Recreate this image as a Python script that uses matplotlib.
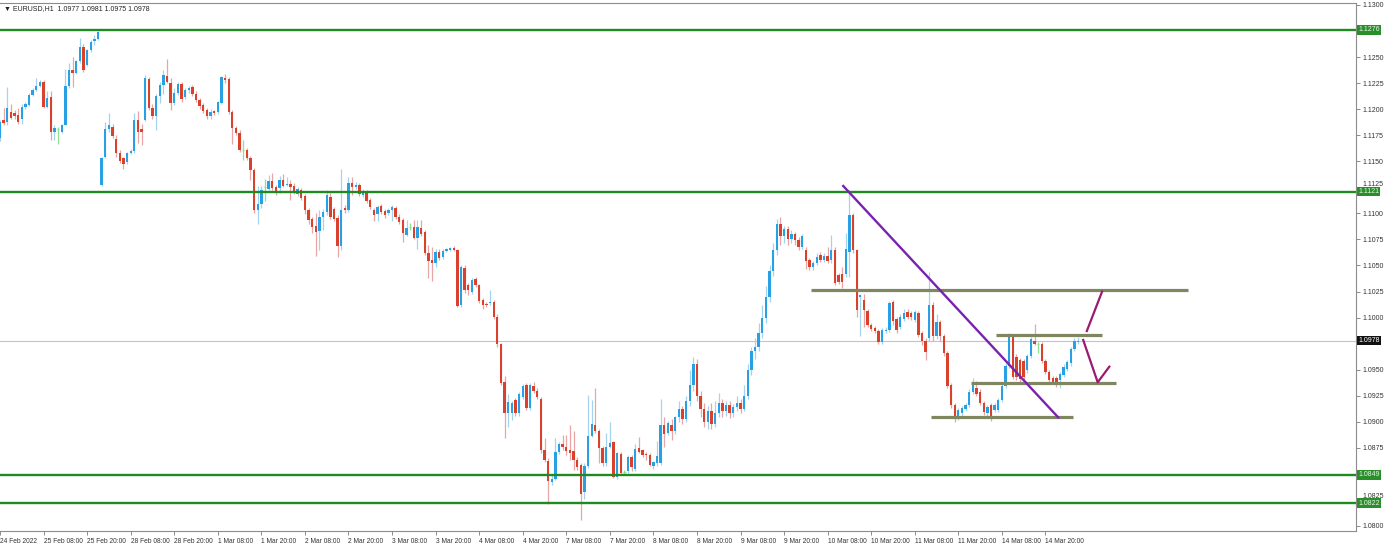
import numpy as np
import matplotlib
matplotlib.use("Agg")
from matplotlib import pyplot as plt
from matplotlib.transforms import ScaledTranslation

plt.rcParams['font.family'] = ['Liberation Sans', 'DejaVu Sans']

# EURUSD H1 bars (open, high, low, close)
opens = [
    1.1172, 1.1190, 1.1188, 1.1197, 1.1196, 1.1194, 1.1191, 1.1202, 1.1204, 1.1214,
    1.1218, 1.1222, 1.1226, 1.1202, 1.1212, 1.1178, 1.1181, 1.1178, 1.1185, 1.1222,
    1.1238, 1.1235, 1.1246, 1.1260, 1.1242, 1.1257, 1.1265, 1.1267, 1.1127, 1.1154,
    1.1181, 1.1183, 1.1171, 1.1158, 1.1153, 1.1149, 1.1158, 1.1160, 1.1190, 1.1181,
    1.1190, 1.1229, 1.1201, 1.1193, 1.1213, 1.1223, 1.1232, 1.1225, 1.1206, 1.1216,
    1.1224, 1.1212, 1.1218, 1.1221, 1.1215, 1.1209, 1.1204, 1.1199, 1.1193, 1.1198,
    1.1197, 1.1206, 1.1230, 1.1229, 1.1197, 1.1182, 1.1177, 1.1161, 1.1161, 1.1153,
    1.1142, 1.1103, 1.1109, 1.1125, 1.1123, 1.1131, 1.1125, 1.1124, 1.1132, 1.1127,
    1.1128, 1.1126, 1.1119, 1.1122, 1.1117, 1.1103, 1.1095, 1.1088, 1.1083, 1.1097,
    1.1101, 1.1116, 1.1104, 1.1096, 1.1069, 1.1105, 1.1103, 1.1129, 1.1125, 1.1127,
    1.1118, 1.1120, 1.1113, 1.1103, 1.1099, 1.1107, 1.1102, 1.1100, 1.1103, 1.1105,
    1.1097, 1.1094, 1.1079, 1.1087, 1.1087, 1.1076, 1.1086, 1.1082, 1.1062, 1.1055,
    1.1052, 1.1063, 1.1058, 1.1064, 1.1065, 1.1067, 1.1065, 1.1012, 1.1048, 1.1031,
    1.1025, 1.1037, 1.1031, 1.1017, 1.1013, 1.1014, 1.1015, 1.1001, 1.0975, 1.0938,
    1.0908, 1.0908, 1.0921, 1.0908, 1.0924, 1.0935, 1.0913, 1.0934, 1.0930, 1.0922,
    1.0873, 1.0862, 1.0842, 1.0845, 1.0871, 1.0879, 1.0876, 1.0873, 1.0872, 1.0863,
    1.0859, 1.0833, 1.0858, 1.0886, 1.0897, 1.0891, 1.0875, 1.0860, 1.0876, 1.0881,
    1.0847, 1.0869, 1.0852, 1.0853, 1.0866, 1.0855, 1.0875, 1.0873, 1.0869, 1.0868,
    1.0858, 1.0860, 1.0860, 1.0897, 1.0889, 1.0897, 1.0891, 1.0905, 1.0912, 1.0903,
    1.0920, 1.0935, 1.0955, 1.0925, 1.0912, 1.0900, 1.0910, 1.0898, 1.0908, 1.0918,
    1.0910, 1.0916, 1.0908, 1.0914, 1.0918, 1.0912, 1.0925, 1.0950, 1.0968, 1.0972,
    1.0985, 1.1000, 1.1020, 1.1045, 1.1065, 1.1090, 1.1078, 1.1085, 1.1075, 1.1080,
    1.1074, 1.1068, 1.1065, 1.1055, 1.1049, 1.1052, 1.1060, 1.1055, 1.1059, 1.1055,
    1.1065, 1.1041, 1.1042, 1.1042, 1.1063, 1.1098, 1.1065, 1.1020, 1.1017, 1.1006,
    1.0993, 1.0990, 1.0987, 1.0977, 1.0987, 1.0988, 1.1015, 1.0999, 1.0991, 1.0999,
    1.1005, 1.1004, 1.0998, 1.1004, 1.0985, 1.0978, 1.0980, 1.1012, 1.0982, 1.0996,
    1.0982, 1.0966, 1.0935, 1.0916, 1.0905, 1.0908, 1.0912, 1.0916, 1.0929, 1.0932,
    1.0929, 1.0918, 1.0908, 1.0916, 1.0911, 1.0911, 1.0921, 1.0934, 1.0954, 1.0982,
    1.0962, 1.0959, 1.0958, 1.0950, 1.0963, 1.0978, 1.0975, 1.0975, 1.0958, 1.0948,
    1.0942, 1.0942, 1.0940, 1.0945, 1.0951, 1.0956, 1.0970, 1.0977,
]
highs = [
    1.1190, 1.1201, 1.1221, 1.1205, 1.1199, 1.1201, 1.1205, 1.1207, 1.1216, 1.1220,
    1.1230, 1.1228, 1.1228, 1.1217, 1.1217, 1.1185, 1.1183, 1.1186, 1.1239, 1.1244,
    1.1250, 1.1247, 1.1268, 1.1263, 1.1258, 1.1266, 1.1271, 1.1275, 1.1154, 1.1188,
    1.1196, 1.1186, 1.1175, 1.1161, 1.1154, 1.1159, 1.1162, 1.1196, 1.1198, 1.1186,
    1.1233, 1.1231, 1.1205, 1.1215, 1.1226, 1.1238, 1.1248, 1.1230, 1.1220, 1.1226,
    1.1226, 1.1220, 1.1222, 1.1223, 1.1217, 1.1211, 1.1206, 1.1201, 1.1200, 1.1199,
    1.1208, 1.1232, 1.1234, 1.1231, 1.1199, 1.1184, 1.1180, 1.1170, 1.1163, 1.1155,
    1.1144, 1.1126, 1.1126, 1.1133, 1.1137, 1.1139, 1.1127, 1.1136, 1.1138, 1.1135,
    1.1132, 1.1129, 1.1125, 1.1124, 1.1119, 1.1105, 1.1097, 1.1100, 1.1103, 1.1104,
    1.1122, 1.1120, 1.1106, 1.1098, 1.1143, 1.1108, 1.1135, 1.1135, 1.1130, 1.1129,
    1.1123, 1.1122, 1.1115, 1.1105, 1.1108, 1.1109, 1.1104, 1.1105, 1.1108, 1.1107,
    1.1099, 1.1096, 1.1094, 1.1091, 1.1094, 1.1094, 1.1094, 1.1084, 1.1070, 1.1068,
    1.1066, 1.1066, 1.1066, 1.1067, 1.1068, 1.1069, 1.1066, 1.1050, 1.1050, 1.1033,
    1.1038, 1.1039, 1.1032, 1.1019, 1.1015, 1.1026, 1.1017, 1.1003, 1.0976, 1.0944,
    1.0927, 1.0920, 1.0923, 1.0929, 1.0936, 1.0937, 1.0937, 1.0938, 1.0932, 1.0924,
    1.0884, 1.0865, 1.0850, 1.0884, 1.0881, 1.0887, 1.0887, 1.0897, 1.0891, 1.0866,
    1.0860, 1.0860, 1.0926, 1.0921, 1.0932, 1.0893, 1.0877, 1.0889, 1.0900, 1.0882,
    1.0871, 1.0871, 1.0854, 1.0868, 1.0868, 1.0879, 1.0885, 1.0874, 1.0871, 1.0870,
    1.0862, 1.0882, 1.0922, 1.0905, 1.0901, 1.0903, 1.0906, 1.0920, 1.0915, 1.0925,
    1.0950, 1.0962, 1.0960, 1.0930, 1.0918, 1.0915, 1.0918, 1.0920, 1.0928, 1.0922,
    1.0920, 1.0920, 1.0917, 1.0925, 1.0922, 1.0935, 1.0955, 1.0972, 1.0980, 1.0995,
    1.1012, 1.1030, 1.1050, 1.1072, 1.1095, 1.1097, 1.1088, 1.1088, 1.1084, 1.1082,
    1.1077, 1.1080, 1.1068, 1.1057, 1.1054, 1.1062, 1.1063, 1.1062, 1.1068, 1.1079,
    1.1068, 1.1043, 1.1049, 1.1081, 1.1122, 1.1100, 1.1066, 1.1023, 1.1023, 1.1008,
    1.0995, 1.0992, 1.0989, 1.0990, 1.0991, 1.1016, 1.1017, 1.1001, 1.1003, 1.1008,
    1.1008, 1.1006, 1.1007, 1.1006, 1.0987, 1.0980, 1.1044, 1.1015, 1.1003, 1.0998,
    1.0984, 1.0968, 1.0937, 1.0918, 1.0913, 1.0915, 1.0918, 1.0931, 1.0942, 1.0939,
    1.0931, 1.0920, 1.0916, 1.0918, 1.0918, 1.0923, 1.0936, 1.0956, 1.0985, 1.0984,
    1.0965, 1.0961, 1.0960, 1.0965, 1.0981, 1.0994, 1.0977, 1.0977, 1.0960, 1.0950,
    1.0944, 1.0944, 1.0948, 1.0955, 1.0959, 1.0972, 1.0980, 1.0981,
]
lows = [
    1.1169, 1.1185, 1.1185, 1.1191, 1.1191, 1.1186, 1.1186, 1.1200, 1.1203, 1.1213,
    1.1217, 1.1221, 1.1201, 1.1201, 1.1170, 1.1170, 1.1167, 1.1177, 1.1185, 1.1220,
    1.1221, 1.1234, 1.1244, 1.1236, 1.1241, 1.1255, 1.1262, 1.1266, 1.1126, 1.1153,
    1.1178, 1.1172, 1.1154, 1.1148, 1.1143, 1.1147, 1.1157, 1.1158, 1.1168, 1.1166,
    1.1189, 1.1199, 1.1191, 1.1180, 1.1206, 1.1215, 1.1225, 1.1199, 1.1204, 1.1214,
    1.1207, 1.1210, 1.1216, 1.1213, 1.1207, 1.1200, 1.1196, 1.1191, 1.1191, 1.1194,
    1.1195, 1.1205, 1.1225, 1.1195, 1.1167, 1.1175, 1.1159, 1.1151, 1.1151, 1.1132,
    1.1100, 1.1090, 1.1105, 1.1112, 1.1122, 1.1122, 1.1118, 1.1120, 1.1125, 1.1126,
    1.1113, 1.1119, 1.1117, 1.1113, 1.1099, 1.1090, 1.1081, 1.1059, 1.1065, 1.1084,
    1.1098, 1.1095, 1.1093, 1.1058, 1.1065, 1.1100, 1.1101, 1.1118, 1.1123, 1.1117,
    1.1116, 1.1110, 1.1104, 1.1093, 1.1093, 1.1099, 1.1096, 1.1098, 1.1093, 1.1095,
    1.1090, 1.1073, 1.1078, 1.1084, 1.1075, 1.1066, 1.1078, 1.1060, 1.1038, 1.1035,
    1.1049, 1.1055, 1.1056, 1.1063, 1.1064, 1.1064, 1.1010, 1.1010, 1.1024, 1.1022,
    1.1023, 1.1029, 1.1014, 1.1008, 1.1010, 1.1012, 1.0999, 1.0972, 1.0935, 1.0884,
    1.0895, 1.0902, 1.0906, 1.0906, 1.0922, 1.0911, 1.0911, 1.0928, 1.0922, 1.0870,
    1.0861, 1.0821, 1.0839, 1.0844, 1.0869, 1.0873, 1.0868, 1.0863, 1.0854, 1.0854,
    1.0806, 1.0826, 1.0856, 1.0885, 1.0889, 1.0860, 1.0858, 1.0858, 1.0875, 1.0846,
    1.0845, 1.0849, 1.0850, 1.0851, 1.0853, 1.0853, 1.0870, 1.0866, 1.0863, 1.0858,
    1.0855, 1.0858, 1.0859, 1.0876, 1.0887, 1.0883, 1.0888, 1.0900, 1.0898, 1.0900,
    1.0915, 1.0930, 1.0920, 1.0905, 1.0895, 1.0893, 1.0893, 1.0895, 1.0905, 1.0905,
    1.0906, 1.0904, 1.0905, 1.0910, 1.0908, 1.0910, 1.0922, 1.0945, 1.0960, 1.0968,
    1.0980, 1.0995, 1.1015, 1.1040, 1.1060, 1.1070, 1.1072, 1.1070, 1.1072, 1.1070,
    1.1065, 1.1066, 1.1047, 1.1046, 1.1046, 1.1050, 1.1053, 1.1053, 1.1052, 1.1052,
    1.1031, 1.1032, 1.1028, 1.1039, 1.1039, 1.1062, 1.1001, 1.0982, 1.0991, 1.0991,
    1.0987, 1.0985, 1.0975, 1.0975, 1.0985, 1.0986, 1.0993, 1.0985, 1.0989, 1.0997,
    1.0999, 1.0998, 1.0996, 1.0981, 1.0974, 1.0959, 1.0978, 1.0978, 1.0979, 1.0978,
    1.0963, 1.0932, 1.0913, 1.0900, 1.0902, 1.0906, 1.0910, 1.0914, 1.0927, 1.0925,
    1.0916, 1.0907, 1.0905, 1.0901, 1.0909, 1.0909, 1.0919, 1.0932, 1.0952, 1.0941,
    1.0940, 1.0938, 1.0940, 1.0947, 1.0961, 1.0974, 1.0966, 1.0956, 1.0946, 1.0938,
    1.0936, 1.0933, 1.0932, 1.0943, 1.0949, 1.0954, 1.0968, 1.0975,
]
closes = [
    1.1188, 1.1187, 1.1201, 1.1192, 1.1193, 1.1188, 1.1202, 1.1205, 1.1214, 1.1218,
    1.1222, 1.1226, 1.1202, 1.1211, 1.1178, 1.1182, 1.1181, 1.1185, 1.1222, 1.1238,
    1.1235, 1.1246, 1.1260, 1.1238, 1.1257, 1.1264, 1.1267, 1.1274, 1.1153, 1.1181,
    1.1185, 1.1174, 1.1158, 1.1150, 1.1147, 1.1158, 1.1160, 1.1190, 1.1178, 1.1178,
    1.1230, 1.1201, 1.1193, 1.1213, 1.1223, 1.1233, 1.1226, 1.1206, 1.1216, 1.1224,
    1.1210, 1.1218, 1.1220, 1.1215, 1.1209, 1.1203, 1.1198, 1.1193, 1.1197, 1.1196,
    1.1207, 1.1231, 1.1228, 1.1197, 1.1182, 1.1177, 1.1161, 1.1161, 1.1153, 1.1142,
    1.1103, 1.1109, 1.1122, 1.1125, 1.1131, 1.1124, 1.1120, 1.1132, 1.1126, 1.1128,
    1.1125, 1.1121, 1.1123, 1.1115, 1.1103, 1.1094, 1.1087, 1.1082, 1.1097, 1.1101,
    1.1118, 1.1097, 1.1095, 1.1069, 1.1103, 1.1103, 1.1129, 1.1125, 1.1127, 1.1119,
    1.1121, 1.1112, 1.1106, 1.1098, 1.1106, 1.1101, 1.1098, 1.1103, 1.1106, 1.1097,
    1.1092, 1.1081, 1.1086, 1.1087, 1.1076, 1.1087, 1.1080, 1.1062, 1.1054, 1.1052,
    1.1063, 1.1057, 1.1064, 1.1066, 1.1067, 1.1065, 1.1011, 1.1049, 1.1026, 1.1026,
    1.1036, 1.1031, 1.1016, 1.1012, 1.1012, 1.1015, 1.1001, 1.0975, 1.0937, 1.0908,
    1.0919, 1.0918, 1.0908, 1.0927, 1.0934, 1.0913, 1.0935, 1.0930, 1.0924, 1.0873,
    1.0863, 1.0843, 1.0845, 1.0871, 1.0879, 1.0876, 1.0872, 1.0870, 1.0863, 1.0857,
    1.0831, 1.0858, 1.0886, 1.0898, 1.0891, 1.0875, 1.0860, 1.0876, 1.0880, 1.0847,
    1.0870, 1.0851, 1.0852, 1.0866, 1.0857, 1.0874, 1.0871, 1.0868, 1.0868, 1.0859,
    1.0861, 1.0867, 1.0897, 1.0888, 1.0899, 1.0891, 1.0905, 1.0912, 1.0903, 1.0920,
    1.0935, 1.0955, 1.0925, 1.0912, 1.0900, 1.0910, 1.0898, 1.0908, 1.0918, 1.0910,
    1.0916, 1.0908, 1.0914, 1.0918, 1.0912, 1.0925, 1.0950, 1.0968, 1.0972, 1.0985,
    1.1000, 1.1020, 1.1045, 1.1065, 1.1090, 1.1078, 1.1085, 1.1075, 1.1080, 1.1074,
    1.1068, 1.1078, 1.1054, 1.1049, 1.1052, 1.1058, 1.1055, 1.1059, 1.1054, 1.1065,
    1.1033, 1.1034, 1.1034, 1.1066, 1.1098, 1.1065, 1.1007, 1.1022, 1.1007, 1.0993,
    1.0989, 1.0987, 1.0977, 1.0988, 1.0988, 1.1014, 1.0997, 1.0988, 1.1001, 1.1004,
    1.1001, 1.1001, 1.1005, 1.0983, 1.0978, 1.0967, 1.1012, 1.0982, 1.0996, 1.0982,
    1.0966, 1.0934, 1.0916, 1.0903, 1.0911, 1.0913, 1.0916, 1.0929, 1.0937, 1.0927,
    1.0918, 1.0909, 1.0914, 1.0905, 1.0916, 1.0921, 1.0934, 1.0954, 1.0982, 1.0943,
    1.0943, 1.0941, 1.0943, 1.0963, 1.0979, 1.0975, 1.0975, 1.0958, 1.0948, 1.0940,
    1.0938, 1.0935, 1.0946, 1.0953, 1.0957, 1.0970, 1.0978, 1.0978,
]

time_labels = ["24 Feb 2022", "25 Feb 08:00", "25 Feb 20:00", "28 Feb 08:00", "28 Feb 20:00",
               "1 Mar 08:00", "1 Mar 20:00", "2 Mar 08:00", "2 Mar 20:00", "3 Mar 08:00",
               "3 Mar 20:00", "4 Mar 08:00", "4 Mar 20:00", "7 Mar 08:00", "7 Mar 20:00",
               "8 Mar 08:00", "8 Mar 20:00", "9 Mar 08:00", "9 Mar 20:00", "10 Mar 08:00",
               "10 Mar 20:00", "11 Mar 08:00", "11 Mar 20:00", "14 Mar 08:00", "14 Mar 20:00"]
label_step = 12  # one label every 12 hourly bars

# levels drawn on the chart
green_levels = [1.1276, 1.1121, 1.0849, 1.0822]
bid = 1.0978
# (start bar, end bar, price)
zones = [(223.4, 327.3, 1.10265), (274.4, 303.5, 1.09836),
         (267.4, 307.4, 1.09375), (256.4, 295.5, 1.09043)]
trend = ([232.3, 291.5], [1.11263, 1.09043])
arrow_up = ([299.4, 303.6], [1.09871, 1.10249])
arrow_down = ([298.4, 302.4, 305.6], [1.09785, 1.09379, 1.09529])

o = np.array(opens); h = np.array(highs); l = np.array(lows); c = np.array(closes)
x = np.arange(len(c))

up_col, dn_col, doji_col = "#27a1e4", "#d9412d", "#8fe08f"
up_wick, dn_wick = "#a3d3ef", "#e9a5a5"

fig = plt.figure(figsize=(14, 5.59), dpi=100)
ax = fig.add_axes([0, 28 / 559, 1356 / 1400, 528 / 559])

up = c > o
dn = c < o
dj = c == o
ax.vlines(x[up], l[up], h[up], color=up_wick, lw=0.9, zorder=2)
ax.vlines(x[dn], l[dn], h[dn], color=dn_wick, lw=0.9, zorder=2)
ax.vlines(x[dj], l[dj], h[dj], color=doji_col, lw=0.9, zorder=2)
ax.bar(x[up], c[up] - o[up], bottom=o[up], width=0.65, color=up_col, lw=0, zorder=3)
ax.bar(x[dn], o[dn] - c[dn], bottom=c[dn], width=0.65, color=dn_col, lw=0, zorder=3)
ax.hlines(c[dj], x[dj] - 0.35, x[dj] + 0.35, color=doji_col, lw=0.9, zorder=3)

for lv in green_levels:
    ax.axhline(lv, color="#1f8a1f", lw=1.7, zorder=4)
ax.axhline(bid, color="#c4c4c4", lw=0.8, zorder=1)

for x0, x1, p in zones:
    ax.plot([x0, x1], [p, p], color="#7e8760", lw=2.3, solid_capstyle="butt", zorder=5)
ax.plot(*trend, color="#7a22b0", lw=1.7, zorder=6)
ax.plot(*arrow_up, color="#9b1a72", lw=1.6, zorder=6)
ax.plot(*arrow_down, color="#9b1a72", lw=1.6, zorder=6)

ax.set_xlim(0, 1356 / 3.63)
ax.set_ylim(1.07952, 1.13019)

# right price scale; labels hidden behind the price tags are left blank
hidden = {"1.1275", "1.0975", "1.0850"}
ax.yaxis.tick_right()
yt = np.arange(1.0800, 1.13001, 0.0025)
ax.set_yticks(yt)
ax.set_yticklabels(["" if "%.4f" % v in hidden else "%.4f" % v for v in yt])
ax.tick_params(axis="y", length=3, width=0.6, color="#777777", labelsize=5.0,
               labelcolor="#333333", pad=2)
# labels sitting just above a tag are nudged up a little
nudge = ScaledTranslation(0, 4 / 100, fig.dpi_scale_trans)
for lab in ax.get_yticklabels():
    if lab.get_text() in ("1.1125", "1.0825"):
        lab.set_transform(lab.get_transform() + nudge)

xt = np.arange(len(time_labels)) * label_step
ax.set_xticks(xt)
ax.set_xticklabels(time_labels, ha="left")
ax.tick_params(axis="x", length=3, width=0.6, color="#777777", labelsize=4.8,
               labelcolor="#333333", pad=2)

for side in ["top", "right", "bottom"]:
    ax.spines[side].set_color("#8c8c8c")
    ax.spines[side].set_linewidth(0.8)
ax.spines["left"].set_visible(False)

# price tags on the right axis
tr = ax.get_yaxis_transform()
for lv in green_levels:
    ax.text(1.0015, lv, "%.4f" % lv, transform=tr, fontsize=5.0, color="#e8f5e8",
            va="center", ha="left", clip_on=False, zorder=10,
            bbox=dict(boxstyle="square,pad=0.2", fc="#2a8f2a", ec="none"))
ax.text(1.0015, bid, "%.4f" % bid, transform=tr, fontsize=5.0, color="white",
        va="center", ha="left", clip_on=False, zorder=10,
        bbox=dict(boxstyle="square,pad=0.2", fc="#111111", ec="none"))

fig.text(4 / 1400, 1 - 9 / 559, "\u25bc EURUSD,H1  1.0977 1.0981 1.0975 1.0978",
         fontsize=5.0, color="#222222", va="center", ha="left")

fig.savefig("out.png", dpi=100)
